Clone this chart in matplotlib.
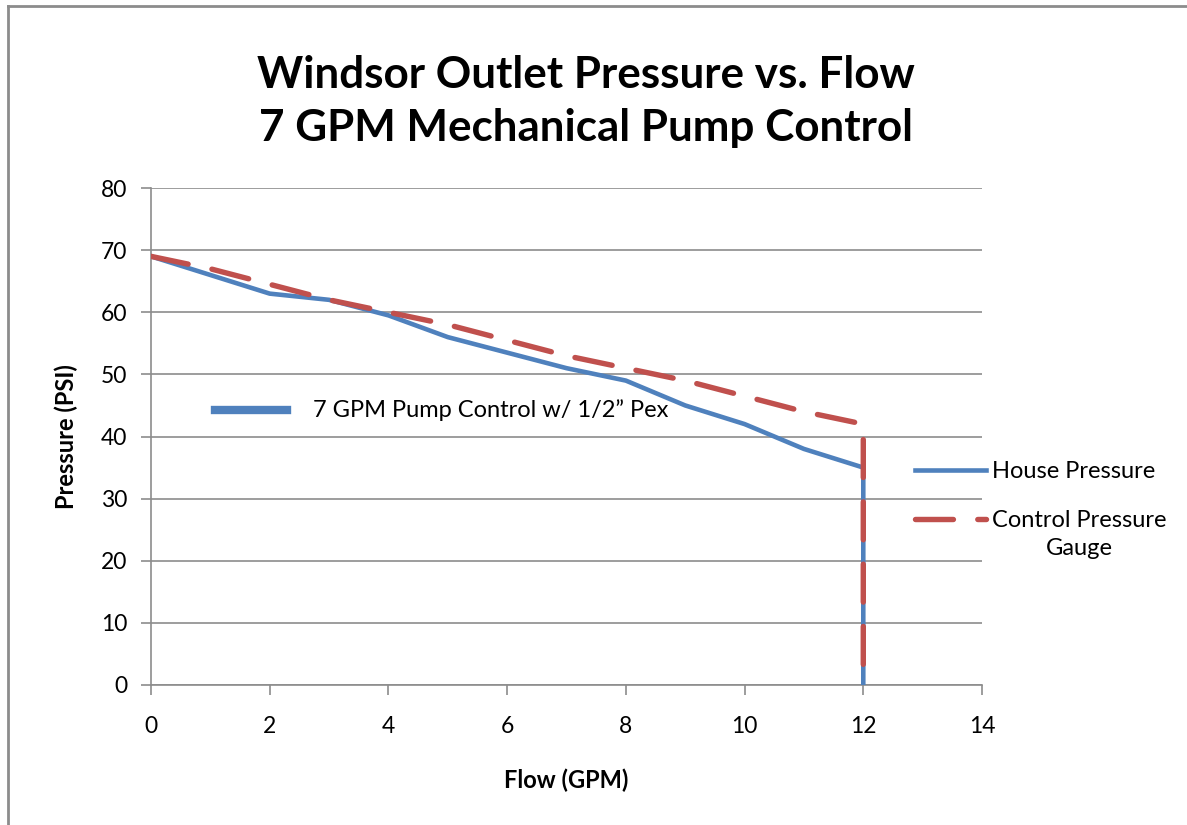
import matplotlib.pyplot as plt
from matplotlib.lines import Line2D

plt.rcParams['font.family'] = ['Lato', 'DejaVu Sans']

# data
flow = [0, 1, 2, 3, 4, 5, 6, 7, 8, 9, 10, 11, 12, 12]
house = [69, 66, 63, 62, 59.5, 56, 53.5, 51, 49, 45, 42, 38, 35, 0]
gauge = [69, 67, 64.5, 62, 60, 58, 55.5, 53, 51, 49, 46.5, 44, 42, 0]

xticks = [0, 2, 4, 6, 8, 10, 12, 14]
yticks = [0, 10, 20, 30, 40, 50, 60, 70, 80]

title = 'Windsor Outlet Pressure vs. Flow\n7 GPM Mechanical Pump Control'
note = '7 GPM Pump Control w/ 1/2\u201d Pex'

blue = '#4F81BD'
red = '#C0504D'
gray = '#8C8C8C'

fig = plt.figure(figsize=(11.87, 8.25), dpi=100)
ax = fig.add_axes([0.1272, 0.1697, 0.7001, 0.6024])

ax.plot(flow, house, color=blue, lw=3.3, solid_joinstyle='round', label='House Pressure', zorder=3)
ax.plot(flow, gauge, color=red, lw=3.9, dashes=(7, 4.5), dash_capstyle='round',
        label='Control Pressure', zorder=4)

ax.set_xlim(0, 14)
ax.set_ylim(0, 80)
ax.set_xticks(xticks)
ax.set_yticks(yticks)
ax.grid(axis='y', color=gray, lw=1.2)
ax.set_axisbelow(True)
for s in ['top', 'right']:
    ax.spines[s].set_visible(False)
for s in ['left', 'bottom']:
    ax.spines[s].set_color(gray)
    ax.spines[s].set_linewidth(1.2)
ax.tick_params(direction='out', length=7, width=1.2, color=gray, labelsize=16.5, pad=10)
ax.tick_params(axis='x', pad=15)

ax.set_xlabel('Flow (GPM)', fontsize=17, fontweight='bold', va='center')
ax.xaxis.set_label_coords(0.5, -0.191)
ax.set_ylabel('Pressure (PSI)', fontsize=17, fontweight='bold', va='center', ha='center')
ax.yaxis.set_label_coords(-0.1023, 0.5)

fig.text(0.4933, 0.877, title, ha='center', va='center', fontsize=31.7, fontweight='bold',
         linespacing=1.39)

# in-plot note with its own short line
ax.add_line(Line2D([0.077, 0.164], [0.553, 0.553], transform=ax.transAxes, color=blue, lw=6))
ax.text(0.195, 0.553, note, transform=ax.transAxes, fontsize=17, va='center')

leg = ax.legend(loc='center left', bbox_to_anchor=(915 / 1187, 1 - 496 / 825),
                bbox_transform=fig.transFigure, frameon=False, fontsize=17,
                handlelength=3.0, handletextpad=0.25, labelspacing=1.2,
                borderpad=0, borderaxespad=0)

# second line of the gauge label, centred under the first
fig.canvas.draw()
bb = leg.get_texts()[1].get_window_extent().transformed(fig.transFigure.inverted())
fig.text((bb.x0 + bb.x1) / 2, (bb.y0 + bb.y1) / 2 - 28 / 825, 'Gauge',
         ha='center', va='center', fontsize=17)

# chart area border (left and top edges visible)
fig.add_artist(Line2D([0.0068, 0.0068], [0, 0.9927], transform=fig.transFigure, color=gray, lw=2))
fig.add_artist(Line2D([0.0068, 1], [0.9927, 0.9927], transform=fig.transFigure, color=gray, lw=2))

fig.savefig('out.png', dpi=100)
